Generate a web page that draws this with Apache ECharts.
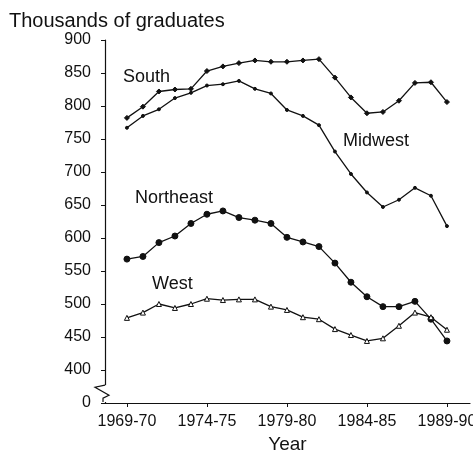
<!DOCTYPE html>
<html>
	<head>
		<meta charset="utf-8">
		<title></title>
		<script src="https://cdn.jsdelivr.net/npm/echarts@6/dist/echarts.min.js"></script>
		<style>
			body { margin: 0; background: #fff; }
		</style>
	</head>
	<body>
		<div id="main" style="width: 473px; height: 450px;"></div>
		<script type="text/javascript">
			// school years, by first calendar year (1969 = 1969-70)
			var years = [1969, 1970, 1971, 1972, 1973, 1974, 1975, 1976, 1977, 1978, 1979,
				1980, 1981, 1982, 1983, 1984, 1985, 1986, 1987, 1988, 1989]
			var yearTicks = [1969, 1974, 1979, 1984, 1989]
			// thousands of graduates
			var south = [782, 799, 822, 825, 826, 853, 860, 865, 869, 867, 867, 869, 871, 843, 813, 789, 791, 808, 835, 836, 806]
			var midwest = [767, 785, 795, 812, 820, 831, 833, 838, 826, 819, 794, 785, 771, 731, 697, 669, 647, 658, 676, 664, 618]
			var northeast = [568, 572, 593, 603, 622, 636, 641, 631, 627, 622, 601, 594, 587, 562, 533, 511, 496, 496, 504, 477, 444]
			var west = [479, 487, 500, 494, 500, 508, 506, 507, 507, 496, 491, 480, 477, 462, 453, 444, 448, 467, 487, 480, 461]
			// 350 stands for the broken axis bottom and is labelled 0
			var yTicks = [350, 400, 450, 500, 550, 600, 650, 700, 750, 800, 850, 900]

			var font = "'Liberation Sans', Arial, sans-serif"
			var ink = '#111'

			function pairs(arr) {
				return years.map(function (y, i) { return [y, arr[i]] })
			}

			function line(name, data, symbol, size, fill) {
				return {
					name: name,
					type: 'line',
					data: pairs(data),
					symbol: symbol,
					symbolSize: size,
					showSymbol: true,
					lineStyle: { color: ink, width: 1.3 },
					itemStyle: { color: fill || ink, borderColor: ink, borderWidth: 1 },
					emphasis: { disabled: true },
					z: 3
				}
			}

			var myCharts = echarts.init(document.getElementById("main"))
			var option = {
				animation: false,
				backgroundColor: '#fff',
				textStyle: { fontFamily: font, color: ink },
				title: {
					text: 'Thousands of graduates',
					left: 4,
					top: 6,
					textStyle: { fontFamily: font, fontSize: 20, fontWeight: 'normal', color: ink }
				},
				grid: { left: 105, right: 3, top: 40, bottom: 47, outerBoundsMode: 'none', containLabel: false },
				xAxis: {
					type: 'value',
					min: 1967.63,
					max: 1990.44,
					name: 'Year',
					nameLocation: 'middle',
					nameGap: 29,
					nameTextStyle: { fontFamily: font, fontSize: 19, color: ink },
					axisLine: { lineStyle: { color: ink, width: 1.2 } },
					axisTick: { show: true, length: 4, customValues: yearTicks, lineStyle: { color: ink } },
					axisLabel: {
						customValues: yearTicks,
						fontSize: 16,
						color: ink,
						margin: 11,
						formatter: function (v) { return v + '-' + String(v + 1).slice(2) }
					},
					splitLine: { show: false }
				},
				yAxis: {
					type: 'value',
					min: 350,
					max: 900,
					interval: 50,
					axisLine: { show: true, lineStyle: { color: ink, width: 1.2 } },
					axisTick: { show: true, length: 4, lineStyle: { color: ink } },
					axisLabel: {
						fontSize: 16,
						color: ink,
						margin: 14,
						formatter: function (v) { return v === 350 ? '0' : String(v) }
					},
					splitLine: { show: false }
				},
				series: [
					line('South', south, 'diamond', 5),
					line('Midwest', midwest, 'circle', 3),
					line('Northeast', northeast, 'circle', 6),
					line('West', west, 'triangle', 5, '#fff')
				]
			}
			myCharts.setOption(option)

			// region names and the axis break
			var yTop = myCharts.convertToPixel({ yAxisIndex: 0 }, 377)
			var yBot = myCharts.convertToPixel({ yAxisIndex: 0 }, 350)
			var xa = myCharts.convertToPixel({ xAxisIndex: 0 }, 1967.63)
			var labelStyle = { fontFamily: font, fontSize: 18, fill: ink, verticalAlign: 'middle' }
			function lbl(text, x, y) {
				return { type: 'text', left: x, top: y, style: Object.assign({ text: text }, labelStyle), z: 10 }
			}
			myCharts.setOption({
				graphic: [
					lbl('South', 123, 68),
					lbl('Midwest', 343, 132),
					lbl('Northeast', 135, 189),
					lbl('West', 152, 275),
					{
						type: 'rect',
						shape: { x: xa - 3, y: yTop, width: 6, height: yBot - yTop - 1 },
						style: { fill: '#fff' },
						z: 20
					},
					{
						type: 'polyline',
						shape: { points: [[xa, yTop], [xa - 10, yTop + 2], [xa + 4, yTop + 10], [xa - 2, yTop + 13], [xa - 2, yBot - 1]] },
						style: { stroke: ink, lineWidth: 1.2, fill: null },
						z: 21
					}
				]
			})
		</script>
	</body>
</html>
